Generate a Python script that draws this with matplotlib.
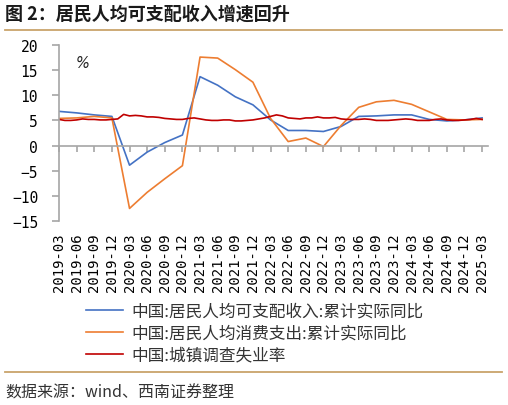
import pandas as pd
import matplotlib
matplotlib.use('Agg')
import matplotlib.pyplot as plt
from matplotlib.lines import Line2D

plt.rcParams['font.family'] = ['Noto Sans CJK SC', 'DejaVu Sans']

# quarterly data (cumulative real yoy, %)
quarters = ['2019-03', '2019-06', '2019-09', '2019-12',
            '2020-03', '2020-06', '2020-09', '2020-12',
            '2021-03', '2021-06', '2021-09', '2021-12',
            '2022-03', '2022-06', '2022-09', '2022-12',
            '2023-03', '2023-06', '2023-09', '2023-12',
            '2024-03', '2024-06', '2024-09', '2024-12',
            '2025-03']
income = [6.8, 6.5, 6.1, 5.8,
          -3.9, -1.3, 0.6, 2.1,
          13.7, 12.0, 9.7, 8.1,
          5.1, 3.0, 3.0, 2.8,
          3.8, 5.8, 5.9, 6.1,
          6.1, 5.2, 4.9, 5.1,
          5.5]
consumption = [5.4, 5.5, 5.8, 5.5,
               -12.5, -9.3, -6.6, -4.0,
               17.6, 17.4, 15.1, 12.6,
               5.4, 0.8, 1.5, -0.2,
               4.0, 7.6, 8.7, 9.0,
               8.2, 6.7, 5.2, 5.1,
               5.2]

# monthly surveyed urban unemployment rate, 2019-03 .. 2025-03
unemp_start = '2019-03'
unemployment = [5.2, 5.0, 5.0, 5.1, 5.3, 5.2, 5.2, 5.1, 5.1, 5.2,
                5.3, 6.2, 5.9, 6.0, 5.9, 5.7, 5.7, 5.6, 5.4, 5.3, 5.2, 5.2,
                5.4, 5.5, 5.3, 5.1, 5.0, 5.0, 5.1, 5.1, 4.9, 4.9, 5.0, 5.1,
                5.3, 5.5, 5.8, 6.1, 5.9, 5.5, 5.4, 5.3, 5.5, 5.5, 5.7, 5.5,
                5.5, 5.6, 5.3, 5.2, 5.2, 5.2, 5.3, 5.2, 5.0, 5.0, 5.0, 5.1,
                5.2, 5.3, 5.2, 5.0, 5.0, 5.0, 5.2, 5.3, 5.1, 5.0, 5.0, 5.1,
                5.2, 5.4, 5.2]

labels = ['中国:居民人均可支配收入:累计实际同比',
          '中国:居民人均消费支出:累计实际同比',
          '中国:城镇调查失业率']
colors = ['#4472C4', '#ED7D31', '#C00000']
rule_color = '#C9A46B'
mono = 'DejaVu Sans Mono'


def month_index(dates, start='2019-03'):
    """Months since start."""
    d = pd.PeriodIndex(dates, freq='M')
    s = pd.Period(start, freq='M')
    return [(p - s).n for p in d]


q_x = month_index(quarters)
m_x = month_index(pd.period_range(unemp_start, periods=len(unemployment), freq='M').strftime('%Y-%m'))

fig = plt.figure(figsize=(5.08, 4.06), dpi=100)
ax = fig.add_axes([59 / 508, 184 / 406, 429 / 508, 176 / 406])

ax.plot(q_x, income, color=colors[0], lw=1.2)
ax.plot(q_x, consumption, color=colors[1], lw=1.2)
ax.plot(m_x, unemployment, color=colors[2], lw=1.2)

ax.set_xlim(0, 73)
ax.set_ylim(-15, 20)
ax.set_yticks(range(-15, 21, 5))

# axis styling
for s in ['top', 'right']:
    ax.spines[s].set_visible(False)
ax.spines['bottom'].set_position(('data', 0))
for s in ['left', 'bottom']:
    ax.spines[s].set_color('#A6A6A6')
    ax.spines[s].set_linewidth(1.2)
ax.set_xticks(q_x)
ax.tick_params(axis='x', direction='out', length=4, color='#A6A6A6', width=1.2, labelbottom=False)
ax.tick_params(axis='y', direction='out', length=5, color='#A6A6A6', width=1.2, pad=10)
for t in ax.get_yticklabels():
    t.set_fontfamily(mono)
    t.set_fontsize(10.5)

sec = ax.secondary_xaxis('bottom')
sec.set_xticks(q_x)
sec.set_xticklabels(quarters, rotation=90, fontfamily=mono, fontsize=10)
sec.spines['bottom'].set_visible(False)
sec.tick_params(length=0, pad=8)

ax.text(0.04, 0.9, '%', transform=ax.transAxes, fontsize=10.5, style='italic',
        family='DejaVu Sans', color='#222222', va='center')

# legend
handles = [Line2D([], [], color=c, lw=1.2) for c in colors]
fig.legend(handles, labels, loc='upper left', bbox_to_anchor=(86 / 508, 1 - 304 / 406),
           frameon=False, fontsize=12, handlelength=2.2, handletextpad=0.5,
           labelspacing=0.28, borderpad=0, borderaxespad=0, labelcolor='#333333')

# title, rules, source
fig.text(5 / 508, 1 - 14 / 406, '图 2：居民人均可支配收入增速回升', fontsize=13, fontweight='bold',
         color='#1a1a1a', va='center', ha='left')
fig.add_artist(Line2D([5 / 508, 502 / 508], [1 - 31 / 406, 1 - 31 / 406], color=rule_color, lw=1.3))
fig.add_artist(Line2D([5 / 508, 502 / 508], [1 - 373 / 406, 1 - 373 / 406], color=rule_color, lw=1.3))
fig.text(5 / 508, 1 - 393 / 406, '数据来源：wind、西南证券整理', fontsize=11.5, style='italic',
         color='#333333', va='center', ha='left')

fig.savefig('out.png', dpi=100)
